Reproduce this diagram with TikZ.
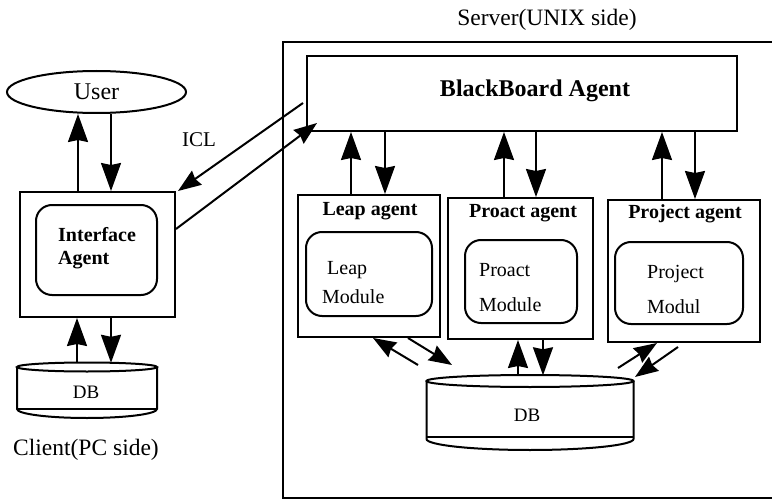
\documentclass[tikz,border=0pt]{standalone}
\usepackage{fontspec}
\setmainfont{Liberation Serif}
\usetikzlibrary{arrows.meta,calc,shapes.geometric}

\begin{document}
\begin{tikzpicture}[x=1pt,y=-1pt,
  box/.style={draw,line width=2pt,inner sep=0pt},
  modbox/.style={draw,line width=2pt,rounded corners=16pt,inner sep=0pt},
  hidden/.style={inner sep=0pt},
  arr/.style={line width=2pt,-{Stealth[length=28pt,width=20pt,inset=2pt]}},
  sarr/.style={line width=2pt,-{Stealth[length=23pt,width=17pt,inset=2pt]}},
  plain/.style={line width=2pt},
  bigtxt/.style={inner sep=0pt,font=\fontsize{23.5}{28}\selectfont},
  boldbig/.style={inner sep=0pt,font=\fontsize{24}{28}\selectfont\bfseries},
  ttl/.style={inner sep=0pt,font=\fontsize{20}{24}\selectfont\bfseries},
  modtxt/.style={inner sep=0pt,align=left,anchor=west,font=\fontsize{20}{24}\selectfont},
  dbtxt/.style={inner sep=0pt,font=\fontsize{19}{22}\selectfont},
]
\clip (0,0) rectangle (772,503);
\fill[white] (0,0) rectangle (772,503);

% ---------- client side ----------
\node[draw,ellipse,line width=2pt,inner sep=0pt,minimum width=179pt,minimum height=42pt,
      font=\fontsize{24}{28}\selectfont] (user) at (96.5,92) {User};
\node[box,minimum width=155pt,minimum height=125pt] (iface) at (97.5,254.5) {};
\node[modbox,minimum width=121pt,minimum height=90pt] (ifmod) at (96.5,250) {};
\node[inner sep=0pt,align=left,anchor=west,font=\fontsize{20}{23}\selectfont\bfseries]
      (iftxt) at (58,248) {Interface\\Agent};

% client database
\node[hidden,minimum width=140pt,minimum height=55pt] (dbC) at (87,390.5) {};
\draw[plain] (87,367) ellipse [x radius=70pt,y radius=4.5pt];
\draw[plain] (17,367) -- (17,409) arc[start angle=180,end angle=360,x radius=70pt,y radius=9pt] -- (157,367);
\draw[plain] (17,409) -- (157,409);
\node[dbtxt] (dbCt) at (86,392) {DB};

\node[bigtxt] (client) at (86,450) {Client(PC side)};

\draw[arr] (iface.north -| 78,0) -- (user.south -| 78,0);
\draw[arr] (user.south -| 111,0) -- (iface.north -| 111,0);
\draw[arr] (dbC.north -| 77,0) -- (iface.south -| 77,0);
\draw[arr] (iface.south -| 111,0) -- (dbC.north -| 111,0);

% ---------- server side ----------
\node[bigtxt] (srvlbl) at (547,20) {Server(UNIX side)};
\node[box,minimum width=507pt,minimum height=456pt] (srv) at (536.5,270) {};

\node[box,minimum width=430pt,minimum height=75pt] (bb) at (522,93.5) {};
\node[boldbig] (bbtxt) at (535,91) {BlackBoard Agent};

% agents
\node[box,minimum width=142pt,minimum height=142pt] (leap) at (369,266) {};
\node[box,minimum width=145pt,minimum height=141pt] (proact) at (520.5,268.5) {};
\node[box,minimum width=152pt,minimum height=142pt] (project) at (684,271) {};

\node[ttl] (leapT) at (370,211) {Leap agent};
\node[ttl] (proactT) at (523,213) {Proact agent};
\node[ttl] (projectT) at (685,214) {Project agent};

\node[modbox,minimum width=126pt,minimum height=84pt] (leapM) at (369,274) {};
\node[modbox,minimum width=112pt,minimum height=83pt] (proactM) at (521,281.5) {};
\node[modbox,minimum width=128pt,minimum height=82pt] (projectM) at (679,283) {};

\node[modtxt] (leapMt) at (322,282.5) {\hspace*{5pt}Leap\\[5pt]Module};
\node[modtxt] (proactMt) at (479,287.5) {Proact\\[11pt]Module};
\node[modtxt] (projectMt) at (647,289.5) {Project\\[11pt]Modul};

% blackboard <-> agents
\draw[arr] (leap.north -| 351,0) -- (bb.south -| 351,0);
\draw[arr] (bb.south -| 385,0) -- (leap.north -| 385,0);
\draw[arr] (proact.north -| 504,0) -- (bb.south -| 504,0);
\draw[arr] (bb.south -| 536,0) -- (proact.north -| 536,0);
\draw[arr] (project.north -| 662,0) -- (bb.south -| 662,0);
\draw[arr] (bb.south -| 695,0) -- (project.north -| 695,0);

% server database
\node[hidden,minimum width=207pt,minimum height=75pt] (dbS) at (530,413) {};
\draw[plain] (530,381) ellipse [x radius=103.5pt,y radius=6pt];
\draw[plain] (426.5,381) -- (426.5,439) arc[start angle=180,end angle=360,x radius=103.5pt,y radius=11pt] -- (633.5,381);
\draw[plain] (426.5,437) -- (633.5,437);
\node[dbtxt] (dbSt) at (527,415) {DB};

% agents <-> database
\coordinate (lpA) at (418,365);
\coordinate (lpB) at (452,365);
\draw[sarr] (lpA) -- (leap.south -| 373,0);
\draw[sarr] (leap.south -| 408,0) -- (lpB);
\draw[arr] (dbS.north -| 518,0) -- (proact.south -| 518,0);
\draw[arr] (proact.south -| 543,0) -- (dbS.north -| 543,0);
\coordinate (pjA) at (618,368);
\coordinate (pjB) at (678,347);
\coordinate (pjC) at (635,377);
\draw[sarr] (pjA) -- (project.south -| 657,0);
\draw[sarr] (pjB) -- (pjC);

% ICL link between client and server
\coordinate (iclA) at (303,103);
\coordinate (iclB) at (317,123);
\draw[sarr] (iclA) -- (iface.north east -| 178,0);
\draw[sarr] (iface.east |- 0,229) -- (iclB);
\node[inner sep=0pt,font=\fontsize{21}{24}\selectfont] (icl) at (199,140) {ICL};
\end{tikzpicture}
\end{document}
